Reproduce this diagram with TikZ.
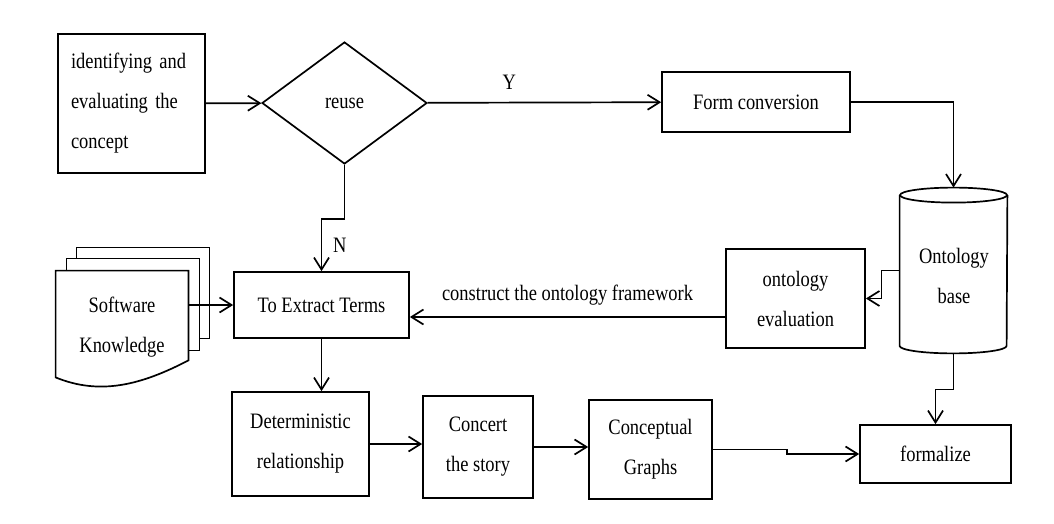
\documentclass[tikz,border=0pt]{standalone}
\usepackage{fontspec}
\setmainfont[FakeStretch=0.84]{Liberation Serif}
\usetikzlibrary{arrows.meta,shapes.geometric}

\begin{document}
\begin{tikzpicture}[x=0.5pt,y=-0.5pt,
	box/.style={draw, line width=0.85pt, fill=white, align=center, inner sep=0pt},
	arr/.style={line width=0.85pt, -{Straight Barb[length=6pt,width=7.5pt]}},
	page/.style={draw, line width=0.85pt, fill=white},
	every node/.style={font=\fontsize{11}{20}\selectfont}]
			%%%%% START %%%%%
			
			\useasboundingbox (0,0) rectangle (1054,524);
			
			\node[box, align=left, text width=60.5pt, inner sep=6.5pt, minimum height=69.5pt] (ident) at (131.5,103.5) {identifying and\\evaluating the\\concept};
			\node[box, diamond, minimum width=82.5pt, minimum height=61pt] (reuse) at (344.5,103) {reuse};
			\node[box, minimum width=94pt, minimum height=30pt] (form) at (756,102) {Form conversion};
			
			\node[minimum width=53.5pt, minimum height=82.5pt, inner sep=0pt] (base) at (953.5,270.5) {};
			\node[box, minimum width=69.5pt, minimum height=49.5pt] (eval) at (795.5,298.5) {ontology\\evaluation};
			\node[box, minimum width=87.5pt, minimum height=33pt] (extract) at (321.5,305) {To Extract Terms};
			
			\node[box, minimum width=68.5pt, minimum height=52pt] (det) at (300.5,444) {Deterministic\\relationship};
			\node[box, minimum width=55pt, minimum height=51pt] (concert) at (478,447) {Concert\\the story};
			\node[box, minimum width=61.5pt, minimum height=49.5pt] (graphs) at (650.5,449.5) {Conceptual\\Graphs};
			\node[box, minimum width=75.5pt, minimum height=29pt] (formal) at (935.5,454) {formalize};
			
			% ontology base as a cylinder
			\draw[line width=0.85pt] ([yshift=-3.75pt]base.north west) -- ([yshift=3.75pt]base.south west)
				arc[start angle=180, end angle=360, x radius=26.75pt, y radius=3.75pt]
				-- ([yshift=-3.75pt]base.north east);
			\draw[line width=0.85pt] ([yshift=-3.75pt]base.north) ellipse[x radius=26.75pt, y radius=3.75pt];
			\node[align=center] (basetxt) at (954,276) {Ontology\\base};
			
			% stack of pages
			\node[minimum width=66pt, minimum height=53pt, inner sep=0pt] (know) at (122,324) {};
			\draw[page] ([shift={(10.5pt,11.5pt)}]know.north west) rectangle ([shift={(10.5pt,19.5pt)}]know.south east);
			\draw[page] ([shift={(5.5pt,6pt)}]know.north west) rectangle ([shift={(5.5pt,13.5pt)}]know.south east);
			\draw[page] (know.south west) -- (know.north west) -- (know.north east) -- ([yshift=8.5pt]know.south east)
				.. controls ([shift={(-24pt,-4pt)}]know.south east) and ([shift={(22pt,-9pt)}]know.south west) .. cycle;
			\node[align=center] (knowtxt) at (122,327) {Software\\Knowledge};
			
			% connectors
			\draw[arr] (ident) -- (reuse);
			\draw[arr] (reuse) -- node[pos=0.35, above=3pt] (ylab) {Y} (form);
			\draw[arr] (form.east) -| (base.north);
			\draw[arr] (base.west) -- ++(-9pt,0) |- (eval.east);
			\draw[arr] ([yshift=-9.25pt]eval.west) -- node[above=2pt] (cons) {construct the ontology framework} ([yshift=-9.25pt]eval.west -| extract.east);
			\draw[arr] (reuse.south) -- ++(0,-27pt) -| node[pos=0.75, right=2pt] (nlab) {N} (extract.north);
			\draw[arr] (know.east |- extract.west) -- (extract.west);
			\draw[arr] (extract.south) -- (extract.south |- det.north);
			\draw[arr] (det.east) -- (det.east -| concert.west);
			\draw[arr] (concert.east) -- (concert.east -| graphs.west);
			\draw[arr] (graphs.east) -- ++(37pt,0) |- (formal.west);
			\draw[arr] (base.south) -- ++(0,-18pt) -| (formal.north);
			
			%%%%% END %%%%%
\end{tikzpicture}
\end{document}
